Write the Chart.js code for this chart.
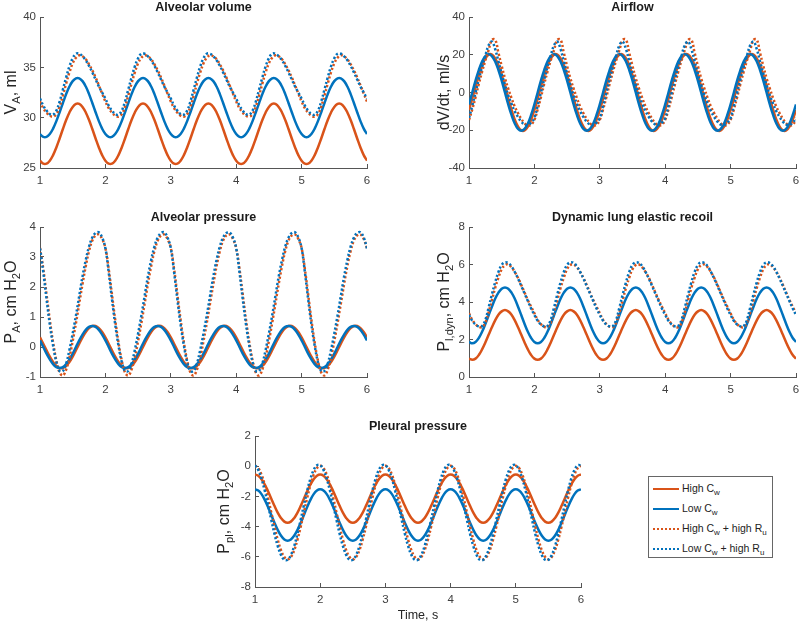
<!DOCTYPE html>
<html>
<head>
<meta charset="utf-8">
<script src="https://cdn.jsdelivr.net/npm/chart.js@4.4.1/dist/chart.umd.min.js"></script>
<style>
  body { margin: 0; background: #fff; width: 800px; height: 625px; position: relative; overflow: hidden;
         font-family: "Liberation Sans", Arial, sans-serif; }
  canvas { position: absolute; }
  #legend { position: absolute; left: 648px; top: 476px; width: 123px; height: 80px; border: 1px solid #666;
            background: #fff; font-size: 10.5px; color: #222; }
  .row { position: absolute; left: 4px; height: 14px; line-height: 14px; white-space: nowrap; }
  .sw { display: inline-block; width: 26px; height: 2.5px; vertical-align: middle; margin-right: 3px; }
  .sw.o { background: #D95319; }
  .sw.b { background: #0072BD; }
  .sw.od { background: repeating-linear-gradient(90deg, #D95319 0 2px, transparent 2px 4px); }
  .sw.bd { background: repeating-linear-gradient(90deg, #0072BD 0 2px, transparent 2px 4px); }
  sub { font-size: 8px; vertical-align: -3px; }
</style>
</head>
<body>
<canvas id="c1" width="407" height="190" style="left:0px;top:0px"></canvas>
<canvas id="c2" width="407" height="190" style="left:429px;top:0px"></canvas>
<canvas id="c3" width="407" height="189" style="left:0px;top:210px"></canvas>
<canvas id="c4" width="407" height="189" style="left:429px;top:210px"></canvas>
<canvas id="c5" width="406" height="206" style="left:215px;top:419px"></canvas>
<div id="legend">
  <div class="row" style="top:4px"><span class="sw o"></span>High C<sub>w</sub></div>
  <div class="row" style="top:24px"><span class="sw b"></span>Low C<sub>w</sub></div>
  <div class="row" style="top:44px"><span class="sw od"></span>High C<sub>w</sub> + high R<sub>u</sub></div>
  <div class="row" style="top:64px"><span class="sw bd"></span>Low C<sub>w</sub> + high R<sub>u</sub></div>
</div>
<script>
'use strict'

const ORANGE = '#D95319';
const BLUE = '#0072BD';
const FONT = '"Liberation Sans", Arial, sans-serif';

// time axis, s
const time = [
  1,1.05,1.1,1.15,1.2,1.25,1.3,1.35,1.4,1.45,1.5,1.55,1.6,1.65,1.7,1.75,1.8,1.85,1.9,1.95,
  2,2.05,2.1,2.15,2.2,2.25,2.3,2.35,2.4,2.45,2.5,2.55,2.6,2.65,2.7,2.75,2.8,2.85,2.9,2.95,
  3,3.05,3.1,3.15,3.2,3.25,3.3,3.35,3.4,3.45,3.5,3.55,3.6,3.65,3.7,3.75,3.8,3.85,3.9,3.95,
  4,4.05,4.1,4.15,4.2,4.25,4.3,4.35,4.4,4.45,4.5,4.55,4.6,4.65,4.7,4.75,4.8,4.85,4.9,4.95,
  5,5.05,5.1,5.15,5.2,5.25,5.3,5.35,5.4,5.45,5.5,5.55,5.6,5.65,5.7,5.75,5.8,5.85,5.9,5.95,
  6];

const seriesLabels = ['High Cw', 'Low Cw', 'High Cw + high Ru', 'Low Cw + high Ru'];

// Alveolar volume, ml
const volHighCw = [
  25.73,25.44,25.44,25.73,26.28,27.04,27.93,28.87,29.76,30.52,31.07,31.36,31.36,31.07,30.52,29.76,28.87,27.93,27.04,26.28,
  25.73,25.44,25.44,25.73,26.28,27.04,27.93,28.87,29.76,30.52,31.07,31.36,31.36,31.07,30.52,29.76,28.87,27.93,27.04,26.28,
  25.73,25.44,25.44,25.73,26.28,27.04,27.93,28.87,29.76,30.52,31.07,31.36,31.36,31.07,30.52,29.76,28.87,27.93,27.04,26.28,
  25.73,25.44,25.44,25.73,26.28,27.04,27.93,28.87,29.76,30.52,31.07,31.36,31.36,31.07,30.52,29.76,28.87,27.93,27.04,26.28,
  25.73,25.44,25.44,25.73,26.28,27.04,27.93,28.87,29.76,30.52,31.07,31.36,31.36,31.07,30.52,29.76,28.87,27.93,27.04,26.28,
  25.73];
const volLowCw = [
  28.37,28.09,28.09,28.37,28.91,29.66,30.54,31.46,32.34,33.09,33.63,33.91,33.91,33.63,33.09,32.34,31.46,30.54,29.66,28.91,
  28.37,28.09,28.09,28.37,28.91,29.66,30.54,31.46,32.34,33.09,33.63,33.91,33.91,33.63,33.09,32.34,31.46,30.54,29.66,28.91,
  28.37,28.09,28.09,28.37,28.91,29.66,30.54,31.46,32.34,33.09,33.63,33.91,33.91,33.63,33.09,32.34,31.46,30.54,29.66,28.91,
  28.37,28.09,28.09,28.37,28.91,29.66,30.54,31.46,32.34,33.09,33.63,33.91,33.91,33.63,33.09,32.34,31.46,30.54,29.66,28.91,
  28.37,28.09,28.09,28.37,28.91,29.66,30.54,31.46,32.34,33.09,33.63,33.91,33.91,33.63,33.09,32.34,31.46,30.54,29.66,28.91,
  28.37];
const volHighRu = [
  31.6,30.95,30.5,30.2,30.1,30.35,31.1,32.2,33.4,34.5,35.4,35.95,36.2,36.1,35.8,35.3,34.7,34.0,33.2,32.4,
  31.6,30.95,30.5,30.2,30.1,30.35,31.1,32.2,33.4,34.5,35.4,35.95,36.2,36.1,35.8,35.3,34.7,34.0,33.2,32.4,
  31.6,30.95,30.5,30.2,30.1,30.35,31.1,32.2,33.4,34.5,35.4,35.95,36.2,36.1,35.8,35.3,34.7,34.0,33.2,32.4,
  31.6,30.95,30.5,30.2,30.1,30.35,31.1,32.2,33.4,34.5,35.4,35.95,36.2,36.1,35.8,35.3,34.7,34.0,33.2,32.4,
  31.6,30.95,30.5,30.2,30.1,30.35,31.1,32.2,33.4,34.5,35.4,35.95,36.2,36.1,35.8,35.3,34.7,34.0,33.2,32.4,
  31.6];
const volLowRu = [
  31.9,31.2,30.7,30.35,30.3,30.7,31.6,32.8,34.0,35.1,35.9,36.35,36.35,36.1,35.7,35.15,34.5,33.8,33.1,32.5,
  31.9,31.2,30.7,30.35,30.3,30.7,31.6,32.8,34.0,35.1,35.9,36.35,36.35,36.1,35.7,35.15,34.5,33.8,33.1,32.5,
  31.9,31.2,30.7,30.35,30.3,30.7,31.6,32.8,34.0,35.1,35.9,36.35,36.35,36.1,35.7,35.15,34.5,33.8,33.1,32.5,
  31.9,31.2,30.7,30.35,30.3,30.7,31.6,32.8,34.0,35.1,35.9,36.35,36.35,36.1,35.7,35.15,34.5,33.8,33.1,32.5,
  31.9,31.2,30.7,30.35,30.3,30.7,31.6,32.8,34.0,35.1,35.9,36.35,36.35,36.1,35.7,35.15,34.5,33.8,33.1,32.5,
  31.9];

// Airflow, ml/s
const flowHighCw = [
  -9.2,-3.2,3.2,9.2,14.4,18.1,20.1,20.1,18.1,14.4,9.2,3.2,-3.2,-9.2,-14.4,-18.1,-20.1,-20.1,-18.1,-14.4,
  -9.2,-3.2,3.2,9.2,14.4,18.1,20.1,20.1,18.1,14.4,9.2,3.2,-3.2,-9.2,-14.4,-18.1,-20.1,-20.1,-18.1,-14.4,
  -9.2,-3.2,3.2,9.2,14.4,18.1,20.1,20.1,18.1,14.4,9.2,3.2,-3.2,-9.2,-14.4,-18.1,-20.1,-20.1,-18.1,-14.4,
  -9.2,-3.2,3.2,9.2,14.4,18.1,20.1,20.1,18.1,14.4,9.2,3.2,-3.2,-9.2,-14.4,-18.1,-20.1,-20.1,-18.1,-14.4,
  -9.2,-3.2,3.2,9.2,14.4,18.1,20.1,20.1,18.1,14.4,9.2,3.2,-3.2,-9.2,-14.4,-18.1,-20.1,-20.1,-18.1,-14.4,
  -9.2];
const flowLowCw = [
  -6.3,0,6.3,11.9,16.4,19.3,20.3,19.3,16.4,11.9,6.3,0,-6.3,-11.9,-16.4,-19.3,-20.3,-19.3,-16.4,-11.9,
  -6.3,0,6.3,11.9,16.4,19.3,20.3,19.3,16.4,11.9,6.3,0,-6.3,-11.9,-16.4,-19.3,-20.3,-19.3,-16.4,-11.9,
  -6.3,0,6.3,11.9,16.4,19.3,20.3,19.3,16.4,11.9,6.3,0,-6.3,-11.9,-16.4,-19.3,-20.3,-19.3,-16.4,-11.9,
  -6.3,0,6.3,11.9,16.4,19.3,20.3,19.3,16.4,11.9,6.3,0,-6.3,-11.9,-16.4,-19.3,-20.3,-19.3,-16.4,-11.9,
  -6.3,0,6.3,11.9,16.4,19.3,20.3,19.3,16.4,11.9,6.3,0,-6.3,-11.9,-16.4,-19.3,-20.3,-19.3,-16.4,-11.9,
  -6.3];
const flowHighRu = [
  -14.5,-9,-2.5,4.5,11,17,22.5,27.8,28,21,14,7.5,2,-3,-7.5,-11,-14,-16.3,-17.5,-17,
  -14.5,-9,-2.5,4.5,11,17,22.5,27.8,28,21,14,7.5,2,-3,-7.5,-11,-14,-16.3,-17.5,-17,
  -14.5,-9,-2.5,4.5,11,17,22.5,27.8,28,21,14,7.5,2,-3,-7.5,-11,-14,-16.3,-17.5,-17,
  -14.5,-9,-2.5,4.5,11,17,22.5,27.8,28,21,14,7.5,2,-3,-7.5,-11,-14,-16.3,-17.5,-17,
  -14.5,-9,-2.5,4.5,11,17,22.5,27.8,28,21,14,7.5,2,-3,-7.5,-11,-14,-16.3,-17.5,-17,
  -14.5];
const flowLowRu = [
  -13.5,-7,0,7,13.5,19.5,25,27,23,16.5,10,4,-1.5,-6,-10,-13,-15.5,-17,-17.2,-16,
  -13.5,-7,0,7,13.5,19.5,25,27,23,16.5,10,4,-1.5,-6,-10,-13,-15.5,-17,-17.2,-16,
  -13.5,-7,0,7,13.5,19.5,25,27,23,16.5,10,4,-1.5,-6,-10,-13,-15.5,-17,-17.2,-16,
  -13.5,-7,0,7,13.5,19.5,25,27,23,16.5,10,4,-1.5,-6,-10,-13,-15.5,-17,-17.2,-16,
  -13.5,-7,0,7,13.5,19.5,25,27,23,16.5,10,4,-1.5,-6,-10,-13,-15.5,-17,-17.2,-16,
  -13.5];

// Alveolar pressure, cm H2O
const paHighCw = [
  0.32,0.11,-0.11,-0.32,-0.5,-0.63,-0.7,-0.7,-0.63,-0.5,-0.32,-0.11,0.11,0.32,0.5,0.63,0.7,0.7,0.63,0.5,
  0.32,0.11,-0.11,-0.32,-0.5,-0.63,-0.7,-0.7,-0.63,-0.5,-0.32,-0.11,0.11,0.32,0.5,0.63,0.7,0.7,0.63,0.5,
  0.32,0.11,-0.11,-0.32,-0.5,-0.63,-0.7,-0.7,-0.63,-0.5,-0.32,-0.11,0.11,0.32,0.5,0.63,0.7,0.7,0.63,0.5,
  0.32,0.11,-0.11,-0.32,-0.5,-0.63,-0.7,-0.7,-0.63,-0.5,-0.32,-0.11,0.11,0.32,0.5,0.63,0.7,0.7,0.63,0.5,
  0.32,0.11,-0.11,-0.32,-0.5,-0.63,-0.7,-0.7,-0.63,-0.5,-0.32,-0.11,0.11,0.32,0.5,0.63,0.7,0.7,0.63,0.5,
  0.32];
const paLowCw = [
  0.22,0,-0.22,-0.41,-0.57,-0.67,-0.7,-0.67,-0.57,-0.41,-0.22,0,0.22,0.41,0.57,0.67,0.7,0.67,0.57,0.41,
  0.22,0,-0.22,-0.41,-0.57,-0.67,-0.7,-0.67,-0.57,-0.41,-0.22,0,0.22,0.41,0.57,0.67,0.7,0.67,0.57,0.41,
  0.22,0,-0.22,-0.41,-0.57,-0.67,-0.7,-0.67,-0.57,-0.41,-0.22,0,0.22,0.41,0.57,0.67,0.7,0.67,0.57,0.41,
  0.22,0,-0.22,-0.41,-0.57,-0.67,-0.7,-0.67,-0.57,-0.41,-0.22,0,0.22,0.41,0.57,0.67,0.7,0.67,0.57,0.41,
  0.22,0,-0.22,-0.41,-0.57,-0.67,-0.7,-0.67,-0.57,-0.41,-0.22,0,0.22,0.41,0.57,0.67,0.7,0.67,0.57,0.41,
  0.22];
const paHighRu = [
  3.3,2.6,1.75,0.9,0.15,-0.45,-0.85,-0.95,-0.75,-0.35,0.2,0.8,1.45,2.1,2.7,3.2,3.55,3.72,3.75,3.6,
  3.3,2.6,1.75,0.9,0.15,-0.45,-0.85,-0.95,-0.75,-0.35,0.2,0.8,1.45,2.1,2.7,3.2,3.55,3.72,3.75,3.6,
  3.3,2.6,1.75,0.9,0.15,-0.45,-0.85,-0.95,-0.75,-0.35,0.2,0.8,1.45,2.1,2.7,3.2,3.55,3.72,3.75,3.6,
  3.3,2.6,1.75,0.9,0.15,-0.45,-0.85,-0.95,-0.75,-0.35,0.2,0.8,1.45,2.1,2.7,3.2,3.55,3.72,3.75,3.6,
  3.3,2.6,1.75,0.9,0.15,-0.45,-0.85,-0.95,-0.75,-0.35,0.2,0.8,1.45,2.1,2.7,3.2,3.55,3.72,3.75,3.6,
  3.3];
const paLowRu = [
  3.29,2.5,1.6,0.75,0.05,-0.5,-0.8,-0.8,-0.55,-0.1,0.45,1.05,1.7,2.35,2.9,3.35,3.65,3.8,3.82,3.65,
  3.29,2.5,1.6,0.75,0.05,-0.5,-0.8,-0.8,-0.55,-0.1,0.45,1.05,1.7,2.35,2.9,3.35,3.65,3.8,3.82,3.65,
  3.29,2.5,1.6,0.75,0.05,-0.5,-0.8,-0.8,-0.55,-0.1,0.45,1.05,1.7,2.35,2.9,3.35,3.65,3.8,3.82,3.65,
  3.29,2.5,1.6,0.75,0.05,-0.5,-0.8,-0.8,-0.55,-0.1,0.45,1.05,1.7,2.35,2.9,3.35,3.65,3.8,3.82,3.65,
  3.29,2.5,1.6,0.75,0.05,-0.5,-0.8,-0.8,-0.55,-0.1,0.45,1.05,1.7,2.35,2.9,3.35,3.65,3.8,3.82,3.65,
  3.29];

// Dynamic lung elastic recoil, cm H2O
const plHighCw = [
  0.98,0.92,0.98,1.17,1.47,1.84,2.25,2.65,3.02,3.32,3.5,3.57,3.5,3.32,3.02,2.65,2.25,1.84,1.47,1.17,
  0.98,0.92,0.98,1.17,1.47,1.84,2.25,2.65,3.02,3.32,3.5,3.57,3.5,3.32,3.02,2.65,2.25,1.84,1.47,1.17,
  0.98,0.92,0.98,1.17,1.47,1.84,2.25,2.65,3.02,3.32,3.5,3.57,3.5,3.32,3.02,2.65,2.25,1.84,1.47,1.17,
  0.98,0.92,0.98,1.17,1.47,1.84,2.25,2.65,3.02,3.32,3.5,3.57,3.5,3.32,3.02,2.65,2.25,1.84,1.47,1.17,
  0.98,0.92,0.98,1.17,1.47,1.84,2.25,2.65,3.02,3.32,3.5,3.57,3.5,3.32,3.02,2.65,2.25,1.84,1.47,1.17,
  0.98];
const plLowCw = [
  1.87,1.8,1.87,2.08,2.41,2.83,3.29,3.75,4.17,4.5,4.71,4.78,4.71,4.5,4.17,3.75,3.29,2.83,2.41,2.08,
  1.87,1.8,1.87,2.08,2.41,2.83,3.29,3.75,4.17,4.5,4.71,4.78,4.71,4.5,4.17,3.75,3.29,2.83,2.41,2.08,
  1.87,1.8,1.87,2.08,2.41,2.83,3.29,3.75,4.17,4.5,4.71,4.78,4.71,4.5,4.17,3.75,3.29,2.83,2.41,2.08,
  1.87,1.8,1.87,2.08,2.41,2.83,3.29,3.75,4.17,4.5,4.71,4.78,4.71,4.5,4.17,3.75,3.29,2.83,2.41,2.08,
  1.87,1.8,1.87,2.08,2.41,2.83,3.29,3.75,4.17,4.5,4.71,4.78,4.71,4.5,4.17,3.75,3.29,2.83,2.41,2.08,
  1.87];
const plHighRu = [
  3.4,3.05,2.82,2.68,2.66,2.9,3.45,4.1,4.75,5.3,5.75,5.97,6.0,5.85,5.6,5.28,4.9,4.5,4.1,3.75,
  3.4,3.05,2.82,2.68,2.66,2.9,3.45,4.1,4.75,5.3,5.75,5.97,6.0,5.85,5.6,5.28,4.9,4.5,4.1,3.75,
  3.4,3.05,2.82,2.68,2.66,2.9,3.45,4.1,4.75,5.3,5.75,5.97,6.0,5.85,5.6,5.28,4.9,4.5,4.1,3.75,
  3.4,3.05,2.82,2.68,2.66,2.9,3.45,4.1,4.75,5.3,5.75,5.97,6.0,5.85,5.6,5.28,4.9,4.5,4.1,3.75,
  3.4,3.05,2.82,2.68,2.66,2.9,3.45,4.1,4.75,5.3,5.75,5.97,6.0,5.85,5.6,5.28,4.9,4.5,4.1,3.75,
  3.4];
const plLowRu = [
  3.31,3.0,2.8,2.7,2.72,3.05,3.7,4.4,5.05,5.6,5.98,6.12,6.08,5.9,5.6,5.25,4.85,4.45,4.05,3.65,
  3.31,3.0,2.8,2.7,2.72,3.05,3.7,4.4,5.05,5.6,5.98,6.12,6.08,5.9,5.6,5.25,4.85,4.45,4.05,3.65,
  3.31,3.0,2.8,2.7,2.72,3.05,3.7,4.4,5.05,5.6,5.98,6.12,6.08,5.9,5.6,5.25,4.85,4.45,4.05,3.65,
  3.31,3.0,2.8,2.7,2.72,3.05,3.7,4.4,5.05,5.6,5.98,6.12,6.08,5.9,5.6,5.25,4.85,4.45,4.05,3.65,
  3.31,3.0,2.8,2.7,2.72,3.05,3.7,4.4,5.05,5.6,5.98,6.12,6.08,5.9,5.6,5.25,4.85,4.45,4.05,3.65,
  3.31];

// Pleural pressure, cm H2O
const pplHighCw = [
  -0.55,-0.63,-0.86,-1.21,-1.66,-2.15,-2.64,-3.09,-3.44,-3.67,-3.75,-3.67,-3.44,-3.09,-2.64,-2.15,-1.66,-1.21,-0.86,-0.63,
  -0.55,-0.63,-0.86,-1.21,-1.66,-2.15,-2.64,-3.09,-3.44,-3.67,-3.75,-3.67,-3.44,-3.09,-2.64,-2.15,-1.66,-1.21,-0.86,-0.63,
  -0.55,-0.63,-0.86,-1.21,-1.66,-2.15,-2.64,-3.09,-3.44,-3.67,-3.75,-3.67,-3.44,-3.09,-2.64,-2.15,-1.66,-1.21,-0.86,-0.63,
  -0.55,-0.63,-0.86,-1.21,-1.66,-2.15,-2.64,-3.09,-3.44,-3.67,-3.75,-3.67,-3.44,-3.09,-2.64,-2.15,-1.66,-1.21,-0.86,-0.63,
  -0.55,-0.63,-0.86,-1.21,-1.66,-2.15,-2.64,-3.09,-3.44,-3.67,-3.75,-3.67,-3.44,-3.09,-2.64,-2.15,-1.66,-1.21,-0.86,-0.63,
  -0.55];
const pplLowCw = [
  -1.53,-1.61,-1.85,-2.23,-2.7,-3.23,-3.76,-4.23,-4.61,-4.85,-4.93,-4.85,-4.61,-4.23,-3.76,-3.23,-2.7,-2.23,-1.85,-1.61,
  -1.53,-1.61,-1.85,-2.23,-2.7,-3.23,-3.76,-4.23,-4.61,-4.85,-4.93,-4.85,-4.61,-4.23,-3.76,-3.23,-2.7,-2.23,-1.85,-1.61,
  -1.53,-1.61,-1.85,-2.23,-2.7,-3.23,-3.76,-4.23,-4.61,-4.85,-4.93,-4.85,-4.61,-4.23,-3.76,-3.23,-2.7,-2.23,-1.85,-1.61,
  -1.53,-1.61,-1.85,-2.23,-2.7,-3.23,-3.76,-4.23,-4.61,-4.85,-4.93,-4.85,-4.61,-4.23,-3.76,-3.23,-2.7,-2.23,-1.85,-1.61,
  -1.53,-1.61,-1.85,-2.23,-2.7,-3.23,-3.76,-4.23,-4.61,-4.85,-4.93,-4.85,-4.61,-4.23,-3.76,-3.23,-2.7,-2.23,-1.85,-1.61,
  -1.53];
const pplHighRu = [
  0.03,-0.12,-0.56,-1.25,-2.11,-3.07,-4.03,-4.89,-5.58,-6.02,-6.17,-6.02,-5.58,-4.89,-4.03,-3.07,-2.11,-1.25,-0.56,-0.12,
  0.03,-0.12,-0.56,-1.25,-2.11,-3.07,-4.03,-4.89,-5.58,-6.02,-6.17,-6.02,-5.58,-4.89,-4.03,-3.07,-2.11,-1.25,-0.56,-0.12,
  0.03,-0.12,-0.56,-1.25,-2.11,-3.07,-4.03,-4.89,-5.58,-6.02,-6.17,-6.02,-5.58,-4.89,-4.03,-3.07,-2.11,-1.25,-0.56,-0.12,
  0.03,-0.12,-0.56,-1.25,-2.11,-3.07,-4.03,-4.89,-5.58,-6.02,-6.17,-6.02,-5.58,-4.89,-4.03,-3.07,-2.11,-1.25,-0.56,-0.12,
  0.03,-0.12,-0.56,-1.25,-2.11,-3.07,-4.03,-4.89,-5.58,-6.02,-6.17,-6.02,-5.58,-4.89,-4.03,-3.07,-2.11,-1.25,-0.56,-0.12,
  0.03];
const pplLowRu = [
  0.06,-0.25,-0.83,-1.63,-2.58,-3.56,-4.51,-5.31,-5.89,-6.2,-6.2,-5.89,-5.31,-4.51,-3.56,-2.58,-1.63,-0.83,-0.25,0.06,
  0.06,-0.25,-0.83,-1.63,-2.58,-3.56,-4.51,-5.31,-5.89,-6.2,-6.2,-5.89,-5.31,-4.51,-3.56,-2.58,-1.63,-0.83,-0.25,0.06,
  0.06,-0.25,-0.83,-1.63,-2.58,-3.56,-4.51,-5.31,-5.89,-6.2,-6.2,-5.89,-5.31,-4.51,-3.56,-2.58,-1.63,-0.83,-0.25,0.06,
  0.06,-0.25,-0.83,-1.63,-2.58,-3.56,-4.51,-5.31,-5.89,-6.2,-6.2,-5.89,-5.31,-4.51,-3.56,-2.58,-1.63,-0.83,-0.25,0.06,
  0.06,-0.25,-0.83,-1.63,-2.58,-3.56,-4.51,-5.31,-5.89,-6.2,-6.2,-5.89,-5.31,-4.51,-3.56,-2.58,-1.63,-0.83,-0.25,0.06,
  0.06];

// y axis title with subscripts, drawn rotated left of the plot area
function yTitle(parts, offset, size) {
  return {
    id: 'yTitle',
    afterDraw(chart) {
      const ctx = chart.ctx;
      const area = chart.chartArea;
      const widths = [];
      let total = 0;
      ctx.save();
      parts.forEach(function (p) {
        ctx.font = (p[1] ? size * 0.7 : size) + 'px ' + FONT;
        const w = ctx.measureText(p[0]).width;
        widths.push(w);
        total += w;
      });
      ctx.translate(area.left - offset, (area.top + area.bottom) / 2);
      ctx.rotate(-Math.PI / 2);
      ctx.fillStyle = '#262626';
      ctx.textBaseline = 'alphabetic';
      let x = -total / 2;
      parts.forEach(function (p, i) {
        ctx.font = (p[1] ? size * 0.7 : size) + 'px ' + FONT;
        ctx.fillText(p[0], x, p[1] ? size * 0.62 : size * 0.35);
        x += widths[i];
      });
      ctx.restore();
    }
  };
}

function makeLines(a, b, c, d) {
  const vals = [a, b, c, d];
  const colors = [ORANGE, BLUE, ORANGE, BLUE];
  return vals.map(function (v, i) {
    return {
      label: seriesLabels[i],
      data: time.map(function (t, j) { return { x: t, y: v[j] }; }),
      borderColor: colors[i],
      borderWidth: 2.5,
      borderDash: i > 1 ? [2.2, 2.2] : [],
      borderCapStyle: 'butt',
      pointRadius: 0,
      tension: 0.4,
      fill: false,
      order: 4 - i
    };
  });
}

function panel(id, title, lines, yMin, yMax, yStep, ylab, yOffset, xTitle) {
  new Chart(document.getElementById(id), {
    type: 'line',
    data: { datasets: lines },
    options: {
      responsive: false,
      animation: false,
      devicePixelRatio: 1,
      layout: { padding: 0 },
      plugins: {
        legend: { display: false },
        tooltip: { enabled: false },
        title: {
          display: true, text: title, color: '#1a1a1a',
          font: { family: FONT, size: 12.5, weight: 'bold' },
          padding: { top: 0, bottom: 2 }
        }
      },
      scales: {
        x: {
          type: 'linear', min: 1, max: 6,
          ticks: { stepSize: 1, color: '#404040', font: { family: FONT, size: 11.5 }, padding: 10, maxRotation: 0 },
          grid: { drawOnChartArea: false, tickLength: -4, color: '#555' },
          border: { color: '#555', width: 1 },
          title: { display: !!xTitle, text: xTitle || '', color: '#262626', font: { family: FONT, size: 12.5 }, padding: { top: 0, bottom: 2 } },
          afterFit: function (s) { s.height = xTitle ? 38 : 22; }
        },
        y: {
          min: yMin, max: yMax,
          ticks: { stepSize: yStep, color: '#404040', font: { family: FONT, size: 11.5 }, padding: 8 },
          grid: { drawOnChartArea: false, tickLength: -4, color: '#555' },
          border: { color: '#555', width: 1 },
          afterFit: function (s) { s.width = 40; }
        },
        // empty right-hand band so the title centres over the plot area
        pad: {
          position: 'right',
          ticks: { display: false },
          grid: { display: false },
          border: { display: false },
          afterFit: function (s) { s.width = 40; }
        }
      }
    },
    plugins: [yTitle(ylab, yOffset, 16)]
  });
}

panel('c1', 'Alveolar volume', makeLines(volHighCw, volLowCw, volHighRu, volLowRu),
  25, 40, 5, [['V', 0], ['A', 1], [', ml', 0]], 30);
panel('c2', 'Airflow', makeLines(flowHighCw, flowLowCw, flowHighRu, flowLowRu),
  -40, 40, 20, [['dV/dt, ml/s', 0]], 26);
panel('c3', 'Alveolar pressure', makeLines(paHighCw, paLowCw, paHighRu, paLowRu),
  -1, 4, 1, [['P', 0], ['A', 1], [', cm H', 0], ['2', 1], ['O', 0]], 30);
panel('c4', 'Dynamic lung elastic recoil', makeLines(plHighCw, plLowCw, plHighRu, plLowRu),
  0, 8, 2, [['P', 0], ['l,dyn', 1], [', cm H', 0], ['2', 1], ['O', 0]], 26);
panel('c5', 'Pleural pressure', makeLines(pplHighCw, pplLowCw, pplHighRu, pplLowRu),
  -8, 2, 2, [['P', 0], ['pl', 1], [', cm H', 0], ['2', 1], ['O', 0]], 32, 'Time, s');
</script>
</body>
</html>
